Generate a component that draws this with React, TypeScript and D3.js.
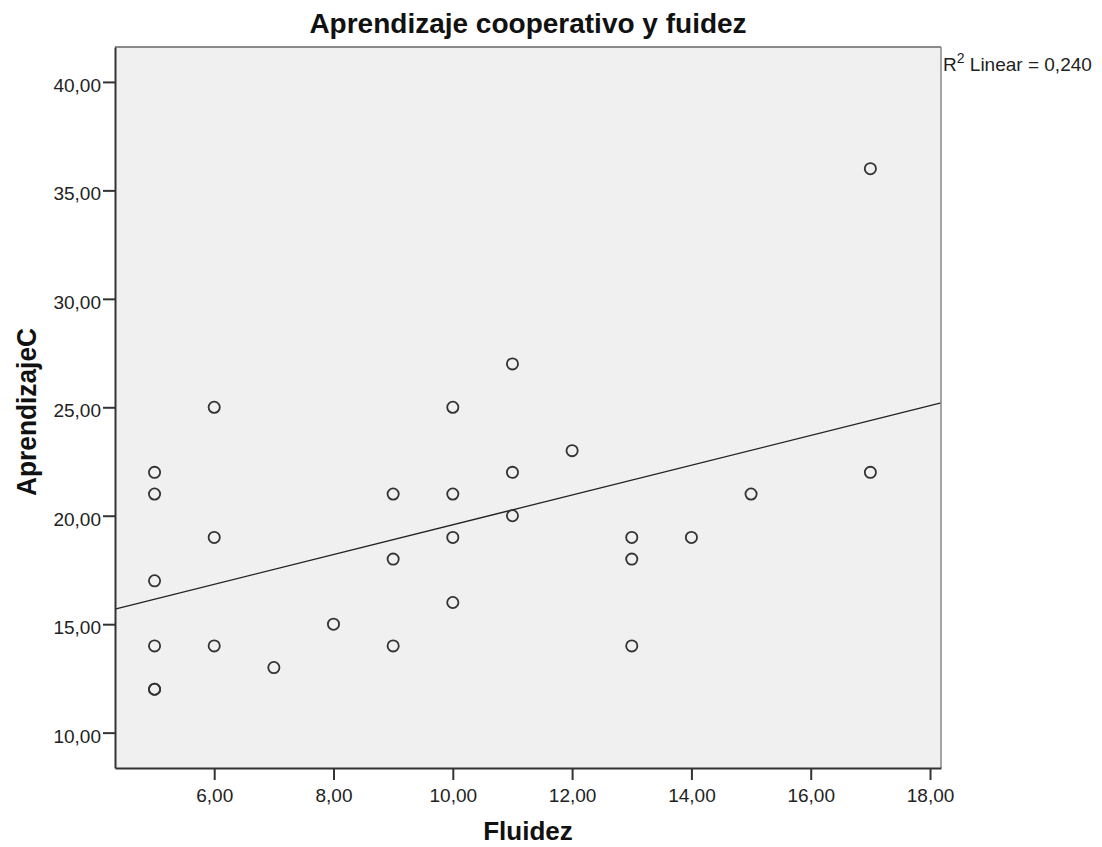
import * as React from 'react'
import { useEffect, useRef } from 'react'
import * as d3 from 'd3'

// Fluidez (x) and AprendizajeC (y), one entry per case
const fluidez = [5, 5, 5, 5, 5, 5, 6, 6, 6, 7, 8, 9, 9, 9, 10, 10, 10, 10, 11, 11, 11, 12, 13, 13, 13, 14, 15, 17, 17]
const aprendizaje = [22, 21, 17, 14, 12, 12, 25, 19, 14, 13, 15, 21, 18, 14, 25, 21, 19, 16, 27, 22, 20, 23, 19, 18, 14, 19, 21, 36, 22]

const xTicks = [6, 8, 10, 12, 14, 16, 18]
const yTicks = [10, 15, 20, 25, 30, 35, 40]

const title = 'Aprendizaje cooperativo y fuidez'
const xLabel = 'Fluidez'
const yLabel = 'AprendizajeC'

const W = 1102
const H = 847
const FONT = 'Arial, "Liberation Sans", sans-serif'

const fmt = (v: number) => v.toFixed(2).replace('.', ',')

export default function App() {
  const svgRef = useRef<SVGSVGElement>(null)

  useEffect(() => {
    if (!svgRef.current) return
    const svg = d3.select(svgRef.current)
    svg.selectAll('*').remove()

    const left = 115, right = 941, top = 47, bottom = 768

    const x = d3.scaleLinear().domain([4.337, 18.184]).range([left, right])
    const y = d3.scaleLinear().domain([8.37, 41.61]).range([bottom, top])

    // plot background
    svg.append('rect')
      .attr('x', left).attr('y', top)
      .attr('width', right - left).attr('height', bottom - top)
      .attr('fill', '#f0f0f0')

    // linear fit
    const pts = fluidez.map((v, i) => [v, aprendizaje[i]] as [number, number])
    const mx = d3.mean(fluidez) as number
    const my = d3.mean(aprendizaje) as number
    let sxy = 0, sxx = 0, syy = 0
    pts.forEach(([a, b]) => {
      sxy += (a - mx) * (b - my)
      sxx += (a - mx) * (a - mx)
      syy += (b - my) * (b - my)
    })
    const slope = sxy / sxx
    const icpt = my - slope * mx
    const r2 = (sxy * sxy) / (sxx * syy)
    const [x0, x1] = x.domain()

    svg.append('line')
      .attr('x1', x(x0)).attr('y1', y(icpt + slope * x0))
      .attr('x2', x(x1)).attr('y2', y(icpt + slope * x1))
      .attr('stroke', '#222').attr('stroke-width', 1.3)

    // points
    svg.append('g').selectAll('circle')
      .data(pts)
      .join('circle')
      .attr('cx', d => x(d[0]))
      .attr('cy', d => y(d[1]))
      .attr('r', 5.6)
      .attr('fill', 'none')
      .attr('stroke', '#333')
      .attr('stroke-width', 1.8)

    // frame: top/right grey, left/bottom dark
    svg.append('line').attr('x1', left).attr('x2', right).attr('y1', top).attr('y2', top)
      .attr('stroke', '#666').attr('stroke-width', 1.5)
    svg.append('line').attr('x1', right).attr('x2', right).attr('y1', top).attr('y2', bottom)
      .attr('stroke', '#888').attr('stroke-width', 1.5)

    const xAxis = svg.append('g')
      .attr('transform', `translate(0,${bottom})`)
      .call(d3.axisBottom(x).tickValues(xTicks).tickFormat(d => fmt(d as number)).tickSize(12).tickSizeOuter(0))
    const yAxis = svg.append('g')
      .attr('transform', `translate(${left},0)`)
      .call(d3.axisLeft(y).tickValues(yTicks).tickFormat(d => fmt(d as number)).tickSize(12).tickSizeOuter(0))

    ;[xAxis, yAxis].forEach(g => {
      g.select('.domain').attr('stroke', '#333').attr('stroke-width', 2)
      g.selectAll('.tick line').attr('stroke', '#333').attr('stroke-width', 2)
      g.selectAll('.tick text')
        .attr('font-family', FONT).attr('font-size', 19).attr('fill', '#222')
    })
    xAxis.selectAll('.tick text').attr('y', 34).attr('dy', 0)
    yAxis.selectAll('.tick text').attr('x', -14).attr('dy', '0.5em')

    // titles
    svg.append('text')
      .attr('x', 528).attr('y', 33)
      .attr('text-anchor', 'middle')
      .attr('font-family', FONT).attr('font-size', 28).attr('font-weight', 'bold')
      .attr('fill', '#111')
      .text(title)

    svg.append('text')
      .attr('x', 528).attr('y', 840)
      .attr('text-anchor', 'middle')
      .attr('font-family', FONT).attr('font-size', 26).attr('font-weight', 'bold')
      .attr('fill', '#111')
      .text(xLabel)

    svg.append('text')
      .attr('transform', `translate(36,412) rotate(-90)`)
      .attr('text-anchor', 'middle')
      .attr('font-family', FONT).attr('font-size', 28).attr('font-weight', 'bold')
      .attr('textLength', 168).attr('lengthAdjust', 'spacingAndGlyphs')
      .attr('fill', '#111')
      .text(yLabel)

    // R² annotation
    const ann = svg.append('text')
      .attr('x', right + 2).attr('y', 71)
      .attr('font-family', FONT).attr('font-size', 19).attr('fill', '#222')
    ann.append('tspan').text('R')
    ann.append('tspan').attr('dy', -8).attr('font-size', 14).text('2')
    ann.append('tspan').attr('dy', 8).text(' Linear = ' + r2.toFixed(3).replace('.', ','))
  }, [])

  return (
    <svg
      ref={svgRef}
      width={W}
      height={H}
      style={{ position: 'absolute', left: 0, top: 0, background: '#fff' }}
    />
  )
}
